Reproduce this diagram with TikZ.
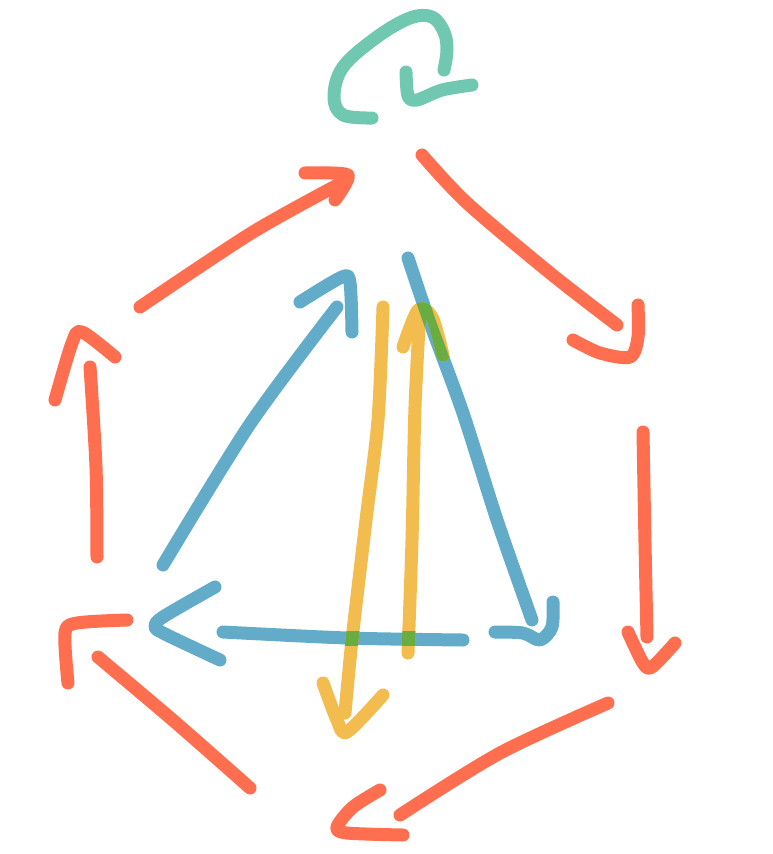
\documentclass[tikz,border=0pt]{standalone}
\definecolor{sketchorange}{RGB}{255,110,78}
\definecolor{sketchblue}{RGB}{98,172,202}
\definecolor{sketchteal}{RGB}{112,200,176}
\definecolor{sketchyellow}{RGB}{242,188,78}
\definecolor{sketchgreen}{RGB}{104,172,66}
\tikzset{
  stroke/.style={line width=13pt, line cap=round, line join=round},
  ostroke/.style={stroke, draw=sketchorange},
  bstroke/.style={stroke, draw=sketchblue},
  tstroke/.style={stroke, draw=sketchteal},
  ystroke/.style={stroke, draw=sketchyellow},
  gstroke/.style={stroke, draw=sketchgreen},
}
\begin{document}
\begin{tikzpicture}[x=1pt,y=-1pt]
\fill[white] (0,0) rectangle (773,854);
\useasboundingbox (0,0) rectangle (773,854);

% teal self loop
\draw[tstroke] plot[smooth,tension=0.6] coordinates {(372,118) (343,115) (334,97) (343,67) (377,37) (410,18) (432,17) (444,32) (447,50) (444,70)};
\draw[tstroke] plot[smooth,tension=0.5] coordinates {(406,72) (408,96) (417,100) (442,90) (472,85)};

% orange hexagon
\draw[ostroke] plot[smooth] coordinates {(140,307) (253,232) (347,180)};
\draw[ostroke] plot[smooth,tension=0.4] coordinates {(305,173) (348,175) (335,200)};

\draw[ostroke] plot[smooth] coordinates {(422,155) (467,203) (550,273) (617,325)};
\draw[ostroke] plot[smooth,tension=0.5] coordinates {(573,340) (600,353) (630,357) (638,337) (638,305)};

\draw[ostroke] plot[smooth] coordinates {(643,432) (645,543) (647,637)};
\draw[ostroke] plot[smooth,tension=0.5] coordinates {(628,632) (643,663) (652,667) (675,643)};

\draw[ostroke] plot[smooth] coordinates {(608,703) (500,753) (400,815)};
\draw[ostroke] plot[smooth,tension=0.5] coordinates {(380,790) (353,807) (337,827) (347,833) (403,835)};

\draw[ostroke] plot[smooth] coordinates {(250,788) (175,722) (98,657)};
\draw[ostroke] plot[smooth,tension=0.5] coordinates {(127,620) (77,623) (65,633) (68,683)};

\draw[ostroke] plot[smooth] coordinates {(97,557) (96,467) (90,367)};
\draw[ostroke] plot[smooth,tension=0.5] coordinates {(55,400) (72,343) (82,332) (115,357)};

% blue triangle
\draw[bstroke] plot[smooth] coordinates {(163,565) (250,424) (337,307)};
\draw[bstroke] plot[smooth,tension=0.5] coordinates {(300,302) (342,277) (350,283) (352,332)};

\draw[bstroke] plot[smooth] coordinates {(408,258) (430,323) (463,413) (497,520) (532,620)};
\draw[bstroke] plot[smooth,tension=0.5] coordinates {(495,632) (523,633) (540,640) (552,627) (553,602)};

\draw[bstroke] plot[smooth] coordinates {(463,640) (347,638) (223,632)};
\draw[bstroke] plot[smooth,tension=0.5] coordinates {(215,587) (163,617) (155,627) (167,635) (220,660)};

% yellow arrows
\draw[ystroke] plot[smooth] coordinates {(383,307) (378,420) (366,520) (352,640) (345,713)};
\draw[ystroke] plot[smooth,tension=0.5] coordinates {(323,683) (337,720) (347,732) (383,695)};

\draw[ystroke] plot[smooth] coordinates {(408,653) (412,540) (415,407) (420,310)};
\draw[ystroke] plot[smooth,tension=0.5] coordinates {(403,347) (418,310) (432,317) (443,355)};

% green where yellow crosses blue
\begin{scope}
\clip (330,631.5) rectangle (430,645.5);
\draw[gstroke] plot[smooth] coordinates {(383,307) (378,420) (366,520) (352,640) (345,713)};
\draw[gstroke] plot[smooth] coordinates {(408,653) (412,540) (415,407) (420,310)};
\end{scope}
\begin{scope}
\clip (410,244) -- (436,321) -- (469,411) -- (457,415) -- (424,325) -- (398,248) -- cycle;
\draw[gstroke] plot[smooth,tension=0.5] coordinates {(403,347) (418,310) (432,317) (443,355)};
\draw[gstroke] plot[smooth] coordinates {(408,653) (412,540) (415,407) (420,310)};
\end{scope}
\end{tikzpicture}
\end{document}
